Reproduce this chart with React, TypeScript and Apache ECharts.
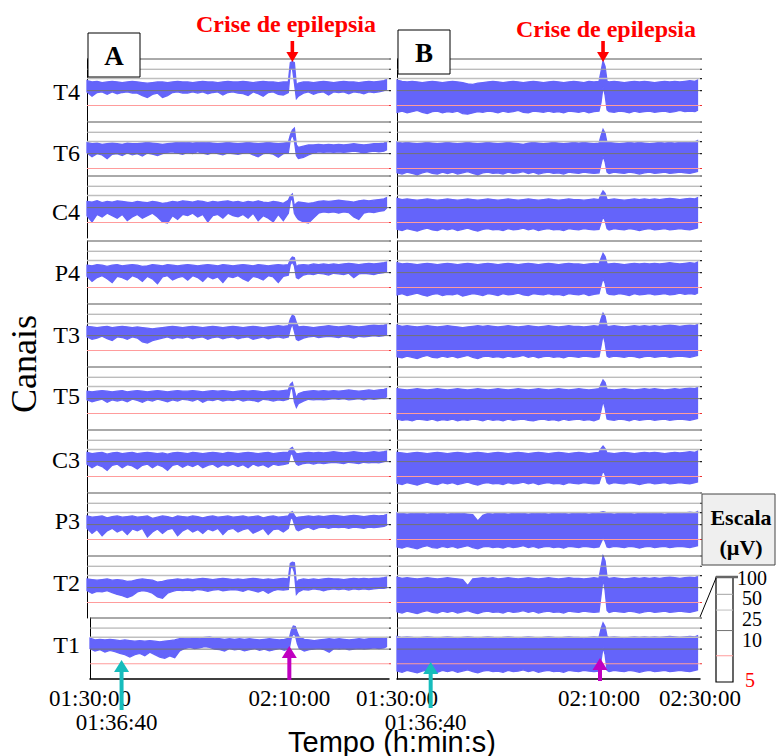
import React, { useEffect, useRef } from "react";
import * as echarts from "echarts";

// ---------------- data ----------------
const CHANNELS = ["T4", "T6", "C4", "P4", "T3", "T5", "C3", "P3", "T2", "T1"];

// minutes after 01:30:00
const TIMES = [
  0, 1, 2, 3, 4, 5, 6, 7, 8, 9,
  10, 11, 12, 13, 14, 15, 16, 17, 18, 19,
  20, 21, 22, 23, 24, 25, 26, 27, 28, 29,
  30, 31, 32, 33, 34, 35, 36, 37, 38, 39,
  40, 40.4, 40.8, 41.2, 41.6,
  42, 43, 44, 45, 46, 47, 48, 49,
  50, 51, 52, 53, 54, 55, 56, 57, 58, 59, 59.5,
];

const A_TICKS = [0, 40];
const A_TICK_LABELS = ["01:30:00", "02:10:00"];
const B_TICKS = [0, 40, 60];
const B_TICK_LABELS = ["01:30:00", "02:10:00", "02:30:00"];
const ONSET_TIME = 6.667;
const ONSET_LABEL = "01:36:40";
const SEIZURE_TIME = 40;
const SPIKE_TIME = 40.8;
const SEIZURE_TITLE = "Crise de epilepsia";

const SCALE_LEVELS = [100, 83.5, 68.5, 49, 25];
const SCALE_LABELS = ["100", "50", "25", "10", "5"];

// ---- Panel A (envelopes, relative level 0..100) ----
const A_T4_UP = [
  65, 63, 64, 62, 63, 64, 63, 62, 63, 64,
  63, 62, 61, 62, 63, 63, 62, 63, 64, 63,
  63, 62, 63, 64, 63, 63, 62, 63, 64, 63,
  63, 64, 63, 62, 63, 64, 63, 63, 62, 63,
  63, 94, 96, 94, 58,
  61, 63, 63, 62, 63, 64, 63, 62,
  63, 64, 63, 63, 62, 63, 64, 63, 64, 65, 67,
];
const A_T4_LO = [
  47, 40, 46, 47, 43, 47, 44, 46, 47, 45,
  45, 41, 38, 43, 45, 38, 41, 46, 47, 45,
  45, 47, 45, 47, 44, 46, 47, 42, 46, 47,
  45, 44, 41, 47, 44, 40, 46, 47, 43, 42,
  46, 83, 86, 62, 36,
  40, 45, 47, 43, 46, 47, 42, 47,
  46, 47, 44, 47, 46, 44, 47, 46, 47, 49, 51,
];
const A_T6_UP = [
  67, 65, 66, 64, 65, 66, 65, 64, 66, 65,
  65, 66, 67, 66, 65, 64, 65, 66, 67, 68,
  67, 66, 67, 68, 67, 66, 65, 66, 67, 66,
  65, 66, 67, 66, 65, 66, 67, 66, 65, 66,
  67, 79, 87, 90, 63,
  59, 61, 63, 63, 64, 63, 64, 63,
  64, 63, 64, 65, 64, 63, 64, 65, 65, 66, 68,
];
const A_T6_LO = [
  50, 44, 49, 47, 41, 48, 49, 46, 50, 47,
  49, 45, 50, 48, 46, 49, 51, 52, 50, 48,
  51, 49, 52, 50, 48, 51, 49, 47, 50, 49,
  48, 50, 51, 47, 44, 49, 50, 48, 43, 49,
  50, 72, 80, 70, 46,
  41, 43, 47, 50, 52, 51, 52, 51,
  52, 51, 52, 53, 52, 50, 52, 53, 52, 53, 55,
];
const A_C4_UP = [
  59, 58, 60, 57, 59, 58, 60, 59, 58, 57,
  59, 58, 57, 59, 58, 56, 57, 59, 58, 60,
  59, 58, 60, 59, 57, 59, 58, 59, 60, 58,
  59, 57, 59, 58, 60, 58, 57, 59, 58, 56,
  61, 68, 71, 52, 56,
  58, 57, 56, 57, 59, 60, 59, 60,
  61, 60, 59, 58, 60, 61, 60, 61, 62, 63, 65,
];
const A_C4_LO = [
  36, 26, 38, 34, 40, 36, 32, 38, 28, 34,
  38, 32, 36, 40, 34, 26, 24, 36, 30, 38,
  36, 40, 34, 38, 26, 36, 38, 32, 40, 36,
  34, 38, 32, 40, 28, 36, 32, 26, 38, 28,
  40, 60, 64, 40, 34,
  30, 26, 24, 32, 40, 42, 41, 42,
  40, 42, 41, 34, 30, 40, 42, 41, 43, 44, 48,
];
const A_P4_UP = [
  61, 60, 62, 61, 59, 61, 62, 60, 61, 62,
  61, 59, 60, 62, 61, 60, 62, 61, 60, 61,
  62, 61, 60, 61, 62, 61, 60, 62, 61, 60,
  61, 62, 61, 60, 62, 61, 60, 61, 62, 61,
  62, 70, 74, 73, 58,
  61, 62, 61, 63, 62, 63, 62, 63,
  62, 63, 64, 63, 62, 63, 64, 63, 64, 65, 66,
];
const A_P4_LO = [
  43, 35, 41, 44, 39, 33, 43, 41, 37, 44,
  41, 35, 43, 39, 31, 42, 44, 37, 41, 43,
  37, 44, 41, 35, 43, 39, 42, 33, 43, 41,
  44, 39, 35, 43, 41, 37, 44, 42, 33, 43,
  45, 62, 66, 60, 41,
  39, 45, 47, 46, 48, 47, 45, 48,
  47, 46, 48, 41, 47, 48, 47, 46, 48, 49, 51,
];
const A_T3_UP = [
  64, 63, 62, 63, 64, 62, 63, 64, 63, 62,
  63, 62, 61, 60, 61, 62, 63, 64, 63, 62,
  63, 64, 63, 62, 63, 64, 63, 62, 63, 64,
  63, 62, 63, 64, 63, 62, 63, 64, 65, 64,
  65, 76, 82, 80, 70,
  63, 64, 63, 62, 63, 64, 65, 64,
  63, 64, 65, 64, 63, 64, 65, 66, 65, 66, 67,
];
const A_T3_LO = [
  47, 43, 45, 48, 44, 41, 47, 46, 43, 47,
  45, 39, 37, 41, 43, 45, 47, 44, 46, 45,
  47, 44, 46, 47, 43, 46, 47, 44, 46, 47,
  44, 46, 47, 43, 45, 47, 44, 46, 47, 45,
  47, 60, 68, 56, 43,
  41, 45, 47, 48, 46, 47, 48, 47,
  46, 48, 47, 45, 48, 47, 48, 49, 48, 49, 51,
];
const A_T5_UP = [
  61, 60, 61, 62, 61, 60, 61, 62, 60, 61,
  62, 61, 60, 61, 62, 61, 60, 61, 62, 61,
  61, 62, 61, 60, 61, 62, 61, 62, 61, 60,
  61, 62, 61, 62, 61, 60, 61, 62, 61, 62,
  63, 72, 75, 62, 50,
  57, 60, 61, 62, 61, 62, 61, 62,
  61, 62, 63, 62, 61, 62, 63, 62, 63, 64, 65,
];
const A_T5_LO = [
  47, 44, 46, 48, 43, 47, 45, 47, 44, 48,
  46, 43, 47, 45, 48, 46, 44, 47, 45, 48,
  47, 45, 48, 43, 47, 46, 48, 45, 47, 46,
  48, 45, 47, 46, 44, 48, 47, 45, 47, 46,
  48, 64, 66, 44, 35,
  41, 45, 48, 47, 48, 47, 48, 49,
  48, 49, 47, 48, 49, 47, 49, 48, 49, 50, 52,
];
const A_C3_UP = [
  64, 62, 63, 64, 61, 63, 64, 62, 63, 64,
  62, 63, 64, 63, 62, 63, 61, 63, 64, 63,
  62, 64, 63, 62, 63, 64, 63, 62, 64, 63,
  62, 63, 64, 63, 62, 63, 64, 62, 63, 64,
  64, 70, 72, 66, 62,
  62, 63, 64, 63, 64, 63, 64, 65,
  64, 63, 64, 65, 64, 63, 64, 65, 64, 65, 66,
];
const A_C3_LO = [
  45, 39, 44, 41, 35, 43, 45, 39, 44, 42,
  37, 43, 45, 39, 44, 41, 35, 43, 45, 40,
  44, 41, 45, 39, 43, 45, 40, 44, 42, 45,
  41, 44, 39, 45, 42, 44, 40, 45, 43, 44,
  46, 60, 62, 52, 45,
  43, 46, 47, 45, 47, 46, 47, 48,
  47, 46, 48, 47, 46, 48, 47, 48, 47, 49, 50,
];
const A_P3_UP = [
  63, 61, 62, 63, 60, 62, 63, 61, 62, 63,
  61, 62, 63, 59, 61, 63, 62, 60, 63, 62,
  61, 63, 62, 60, 62, 63, 61, 62, 63, 61,
  62, 63, 61, 62, 63, 60, 62, 63, 61, 62,
  63, 68, 70, 64, 60,
  61, 62, 63, 62, 63, 62, 63, 64,
  63, 62, 63, 64, 63, 62, 63, 64, 63, 64, 65,
];
const A_P3_LO = [
  43, 35, 41, 31, 39, 43, 37, 41, 33, 42,
  39, 43, 29, 37, 42, 35, 41, 43, 31, 39,
  43, 37, 41, 35, 42, 39, 43, 33, 41, 43,
  37, 41, 43, 35, 39, 43, 33, 41, 42, 37,
  43, 58, 60, 50, 41,
  39, 43, 45, 41, 44, 45, 43, 45,
  44, 45, 43, 45, 44, 43, 45, 44, 45, 46, 48,
];
const A_T2_UP = [
  63, 62, 61, 62, 63, 61, 62, 61, 59, 60,
  62, 63, 62, 61, 58, 59, 61, 62, 63, 62,
  63, 62, 63, 64, 63, 62, 63, 64, 63, 62,
  63, 62, 63, 64, 63, 62, 63, 62, 63, 64,
  63, 88, 90, 89, 56,
  61, 63, 62, 63, 62, 63, 64, 63,
  63, 62, 63, 64, 63, 64, 63, 64, 64, 65, 66,
];
const A_T2_LO = [
  44, 40, 43, 42, 44, 41, 38, 36, 33, 36,
  42, 44, 43, 40, 34, 32, 40, 43, 45, 44,
  45, 44, 46, 45, 43, 45, 46, 44, 45, 46,
  45, 43, 46, 44, 42, 45, 40, 44, 46, 45,
  46, 80, 83, 74, 38,
  42, 46, 45, 47, 46, 44, 46, 47,
  46, 47, 45, 47, 46, 47, 46, 47, 48, 48, 49,
];
const A_T1_UP = [
  67, 64, 65, 64, 65, 64, 63, 64, 63, 62,
  63, 62, 63, 62, 61, 62, 63, 64, 66, 67,
  67, 66, 67, 68, 69, 67, 66, 65, 66, 65,
  66, 65, 66, 65, 64, 65, 66, 65, 64, 65,
  67, 80, 87, 86, 76,
  69, 65, 64, 63, 64, 65, 66, 65,
  66, 65, 64, 65, 66, 65, 66, 67, 66, 67, 68,
];
const A_T1_LO = [
  50, 46, 48, 44, 47, 45, 42, 40, 36, 40,
  42, 38, 44, 40, 36, 34, 38, 35, 46, 50,
  52, 50, 51, 53, 52, 49, 48, 46, 50, 48,
  49, 46, 48, 50, 47, 49, 46, 48, 50, 47,
  50, 68, 74, 72, 58,
  50, 46, 48, 49, 50, 48, 44, 50,
  49, 50, 48, 49, 50, 49, 50, 51, 50, 51, 53,
];

// ---- Panel B ----
const B_T4_UP = [
  66, 64, 63, 64, 63, 62, 63, 64, 63, 62,
  63, 64, 63, 62, 60, 59, 61, 62, 63, 64,
  63, 62, 63, 64, 63, 62, 63, 64, 63, 62,
  63, 64, 63, 62, 63, 64, 63, 62, 64, 63,
  64, 80, 97, 88, 64,
  63, 64, 63, 62, 63, 64, 63, 64,
  63, 62, 63, 64, 63, 64, 63, 64, 65, 64, 66,
];
const B_T4_LO = [
  14, 16, 13, 15, 17, 14, 12, 15, 16, 13,
  15, 14, 16, 12, 11, 13, 15, 14, 16, 15,
  13, 16, 14, 15, 17, 14, 13, 16, 15, 14,
  16, 14, 15, 13, 16, 15, 14, 16, 13, 15,
  16, 30, 55, 42, 18,
  15, 14, 16, 15, 13, 16, 14, 15,
  16, 14, 15, 16, 14, 15, 17, 15, 16, 15, 17,
];
const B_T6_UP = [
  68, 66, 67, 66, 65, 66, 67, 66, 65, 66,
  67, 66, 65, 66, 67, 66, 65, 66, 67, 66,
  65, 66, 67, 66, 65, 64, 66, 67, 66, 65,
  66, 67, 66, 65, 66, 67, 66, 67, 66, 65,
  66, 78, 88, 82, 66,
  67, 66, 65, 66, 67, 66, 67, 66,
  65, 66, 67, 66, 67, 66, 67, 68, 67, 68, 70,
];
const B_T6_LO = [
  18, 16, 19, 17, 15, 18, 20, 17, 16, 19,
  17, 19, 16, 18, 20, 17, 15, 18, 19, 17,
  18, 16, 19, 17, 18, 20, 17, 19, 16, 18,
  19, 17, 18, 16, 19, 18, 17, 19, 18, 17,
  18, 32, 45, 36, 19,
  17, 19, 18, 17, 19, 18, 16, 18,
  19, 17, 18, 19, 17, 18, 19, 18, 17, 19, 20,
];
const B_C4_UP = [
  64, 62, 63, 62, 61, 62, 63, 62, 61, 62,
  63, 62, 61, 62, 63, 62, 61, 62, 63, 62,
  61, 62, 63, 62, 61, 62, 63, 62, 61, 62,
  63, 62, 61, 62, 63, 62, 62, 61, 62, 63,
  62, 70, 76, 72, 62,
  62, 63, 62, 61, 62, 63, 62, 63,
  62, 63, 62, 63, 64, 63, 62, 63, 64, 63, 65,
];
const B_C4_LO = [
  14, 12, 15, 13, 11, 14, 16, 13, 12, 15,
  13, 15, 12, 14, 16, 13, 11, 14, 15, 13,
  14, 12, 15, 13, 14, 16, 13, 15, 12, 14,
  15, 13, 14, 12, 15, 14, 13, 15, 14, 13,
  14, 24, 35, 28, 15,
  13, 15, 14, 13, 15, 14, 12, 14,
  15, 13, 14, 15, 13, 14, 15, 14, 13, 15, 16,
];
const B_P4_UP = [
  65, 63, 64, 63, 62, 63, 64, 63, 62, 63,
  64, 63, 62, 63, 64, 63, 62, 63, 64, 63,
  62, 63, 64, 63, 62, 63, 64, 63, 62, 63,
  64, 63, 62, 63, 64, 63, 63, 62, 63, 64,
  63, 72, 80, 75, 63,
  63, 64, 63, 62, 63, 64, 63, 64,
  63, 64, 63, 64, 65, 64, 63, 64, 65, 64, 66,
];
const B_P4_LO = [
  13, 15, 12, 14, 16, 13, 11, 14, 15, 12,
  14, 13, 15, 11, 13, 15, 14, 12, 15, 14,
  12, 15, 13, 14, 16, 13, 12, 15, 14, 13,
  15, 13, 14, 12, 15, 14, 13, 15, 12, 14,
  15, 28, 40, 32, 16,
  14, 13, 15, 14, 12, 15, 13, 14,
  15, 13, 14, 15, 13, 14, 16, 14, 15, 14, 16,
];
const B_T3_UP = [
  66, 64, 65, 64, 63, 64, 65, 64, 63, 64,
  65, 64, 63, 62, 63, 64, 65, 64, 65, 64,
  63, 64, 65, 64, 63, 64, 65, 64, 63, 64,
  65, 64, 63, 64, 65, 64, 64, 63, 64, 65,
  64, 76, 85, 80, 64,
  64, 65, 64, 63, 64, 65, 64, 65,
  64, 65, 64, 65, 66, 65, 64, 65, 66, 65, 67,
];
const B_T3_LO = [
  15, 13, 16, 14, 12, 15, 17, 14, 13, 16,
  14, 16, 13, 15, 17, 14, 12, 15, 16, 14,
  15, 13, 16, 14, 15, 17, 14, 16, 13, 15,
  16, 14, 15, 13, 16, 15, 14, 16, 15, 14,
  15, 32, 50, 38, 16,
  14, 16, 15, 14, 16, 15, 13, 15,
  16, 14, 15, 16, 14, 15, 16, 15, 14, 16, 17,
];
const B_T5_UP = [
  65, 64, 63, 64, 65, 64, 63, 64, 65, 64,
  63, 64, 65, 64, 63, 64, 65, 64, 63, 64,
  65, 64, 63, 64, 65, 64, 63, 64, 65, 64,
  63, 64, 65, 64, 63, 64, 65, 64, 63, 64,
  65, 72, 79, 75, 64,
  64, 63, 64, 65, 64, 63, 64, 65,
  64, 65, 64, 63, 64, 65, 64, 65, 66, 65, 67,
];
const B_T5_LO = [
  16, 14, 15, 13, 16, 15, 14, 16, 13, 15,
  14, 16, 13, 15, 14, 16, 15, 13, 16, 14,
  15, 13, 16, 14, 15, 16, 14, 13, 15, 16,
  14, 15, 13, 16, 14, 15, 16, 14, 15, 13,
  16, 30, 45, 34, 16,
  15, 14, 16, 15, 13, 16, 14, 15,
  16, 14, 15, 16, 14, 15, 16, 15, 14, 16, 17,
];
const B_C3_UP = [
  64, 63, 62, 63, 64, 63, 62, 63, 64, 63,
  62, 63, 64, 63, 62, 63, 64, 63, 62, 63,
  64, 63, 62, 63, 64, 63, 62, 63, 64, 63,
  62, 63, 64, 63, 62, 63, 64, 63, 62, 63,
  64, 70, 74, 70, 63,
  63, 62, 63, 64, 63, 62, 63, 64,
  63, 64, 63, 62, 63, 64, 63, 64, 65, 64, 66,
];
const B_C3_LO = [
  14, 12, 15, 13, 11, 14, 16, 13, 12, 15,
  13, 15, 12, 14, 16, 13, 11, 14, 15, 13,
  14, 12, 15, 13, 14, 16, 13, 15, 12, 14,
  15, 13, 14, 12, 15, 14, 13, 15, 14, 13,
  14, 24, 35, 28, 15,
  13, 15, 14, 13, 15, 14, 12, 14,
  15, 13, 14, 15, 13, 14, 15, 14, 13, 15, 16,
];
const B_P3_UP = [
  68, 67, 66, 67, 68, 67, 66, 67, 68, 67,
  66, 67, 68, 67, 66, 65, 55, 64, 67, 66,
  68, 67, 66, 67, 68, 67, 66, 67, 68, 67,
  66, 67, 68, 67, 66, 67, 68, 67, 66, 67,
  68, 69, 70, 69, 67,
  67, 66, 67, 68, 67, 66, 67, 68,
  67, 68, 67, 66, 67, 68, 67, 68, 69, 68, 70,
];
const B_P3_LO = [
  13, 11, 14, 12, 10, 13, 15, 12, 11, 14,
  12, 14, 11, 13, 15, 12, 10, 13, 14, 12,
  13, 11, 14, 12, 13, 15, 12, 14, 11, 13,
  14, 12, 13, 11, 14, 13, 12, 14, 13, 12,
  13, 20, 27, 22, 13,
  12, 14, 13, 12, 14, 13, 11, 13,
  14, 12, 13, 14, 12, 13, 14, 13, 12, 14, 15,
];
const B_T2_UP = [
  66, 64, 65, 64, 63, 64, 65, 64, 63, 64,
  65, 64, 63, 62, 52, 63, 64, 65, 64, 65,
  63, 64, 65, 64, 63, 64, 65, 64, 63, 64,
  65, 64, 63, 64, 65, 64, 64, 63, 64, 65,
  64, 82, 100, 92, 65,
  64, 65, 64, 63, 64, 65, 64, 65,
  64, 65, 64, 65, 66, 65, 64, 65, 66, 65, 67,
];
const B_T2_LO = [
  10, 8, 11, 9, 7, 10, 12, 9, 8, 11,
  9, 11, 8, 10, 12, 9, 7, 10, 11, 9,
  10, 8, 11, 9, 10, 12, 9, 11, 8, 10,
  11, 9, 10, 8, 11, 10, 9, 11, 10, 9,
  10, 36, 63, 45, 12,
  9, 11, 10, 9, 11, 10, 8, 10,
  11, 9, 10, 11, 9, 10, 11, 10, 9, 11, 12,
];
const B_T1_UP = [
  70, 68, 69, 68, 67, 68, 69, 68, 67, 68,
  69, 68, 67, 68, 69, 68, 67, 68, 69, 68,
  67, 68, 69, 68, 67, 68, 69, 68, 67, 68,
  69, 68, 67, 68, 69, 68, 68, 67, 68, 69,
  68, 82, 92, 86, 70,
  68, 69, 68, 67, 68, 69, 68, 69,
  68, 69, 68, 69, 70, 69, 68, 69, 70, 69, 71,
];
const B_T1_LO = [
  13, 11, 14, 12, 10, 13, 15, 12, 11, 14,
  12, 14, 11, 13, 15, 12, 10, 13, 14, 12,
  13, 11, 14, 12, 13, 15, 12, 14, 11, 13,
  14, 12, 13, 11, 14, 13, 12, 14, 13, 12,
  13, 30, 52, 40, 14,
  12, 14, 13, 12, 14, 13, 11, 13,
  14, 12, 13, 14, 12, 13, 14, 13, 12, 14, 15,
];

const A_UP = [A_T4_UP, A_T6_UP, A_C4_UP, A_P4_UP, A_T3_UP, A_T5_UP, A_C3_UP, A_P3_UP, A_T2_UP, A_T1_UP];
const A_LO = [A_T4_LO, A_T6_LO, A_C4_LO, A_P4_LO, A_T3_LO, A_T5_LO, A_C3_LO, A_P3_LO, A_T2_LO, A_T1_LO];
const B_UP = [B_T4_UP, B_T6_UP, B_C4_UP, B_P4_UP, B_T3_UP, B_T5_UP, B_C3_UP, B_P3_UP, B_T2_UP, B_T1_UP];
const B_LO = [B_T4_LO, B_T6_LO, B_C4_LO, B_P4_LO, B_T3_LO, B_T5_LO, B_C3_LO, B_P3_LO, B_T2_LO, B_T1_LO];

// ---------------- layout / style ----------------
const W = 776;
const H = 756;
const PANEL_LEFT = [87, 397];
const PANEL_WIDTH = [302, 303];
const STRIP_TOPS = [59, 122, 176, 241, 304, 367, 430, 493, 556, 618];
const STRIP_H = 62;
const LABEL_Y = [92, 153, 212, 273, 335, 396, 460, 521, 583, 645];
const BAND = "#6464fa";
const LINE_COLORS = ["#555555", "#a3a3a3", "#bfbfbf", "#737373", "#ff9c9c"];
const LINE_WIDTHS = [1, 1, 1.4, 1, 1];
const SERIF = "'Liberation Serif', 'Times New Roman', serif";
const SANS = "'Liberation Sans', Arial, sans-serif";

function xOf(p: number, t: number) {
  return PANEL_LEFT[p] + (t / 60) * PANEL_WIDTH[p];
}

function buildOption() {
  const grid: any[] = [];
  const xAxis: any[] = [];
  const yAxis: any[] = [];
  const series: any[] = [];
  const panels = [
    { up: A_UP, lo: A_LO, ticks: A_TICKS, labels: A_TICK_LABELS },
    { up: B_UP, lo: B_LO, ticks: B_TICKS, labels: B_TICK_LABELS },
  ];
  panels.forEach((panel, p) => {
    CHANNELS.forEach((ch, i) => {
      const k = p * CHANNELS.length + i;
      const last = i === CHANNELS.length - 1;
      const left = p === 0 && last ? PANEL_LEFT[p] + 3 : PANEL_LEFT[p];
      const width = p === 0 && last ? PANEL_WIDTH[p] - 3 : PANEL_WIDTH[p];
      grid.push({ left, width, top: STRIP_TOPS[i], height: last ? STRIP_H - 1 : STRIP_H, show: false });
      xAxis.push({
        gridIndex: k,
        type: "value",
        min: 0,
        max: 60,
        interval: 10,
        axisLine: { show: last, onZero: false, lineStyle: { color: "#000", width: 1.5 } },
        axisTick: { show: false },
        splitLine: { show: false },
        axisLabel: {
          show: last,
          margin: 8,
          color: "#000",
          fontFamily: SERIF,
          fontSize: 23,
          formatter: (v: number) => {
            const n = panel.ticks.indexOf(v);
            return n >= 0 ? panel.labels[n] : "";
          },
        },
      });
      yAxis.push({
        gridIndex: k,
        type: "value",
        min: 0,
        max: 100,
        axisLine: { show: true, onZero: false, lineStyle: { color: "#000", width: 1 } },
        axisTick: { show: false },
        axisLabel: { show: false },
        splitLine: { show: false },
      });
      const up = panel.up[i];
      const lo = panel.lo[i];
      series.push({
        type: "custom",
        name: (p === 0 ? "A " : "B ") + ch,
        xAxisIndex: k,
        yAxisIndex: k,
        silent: true,
        clip: false,
        encode: { x: 0, y: [1, 2] },
        data: TIMES.map((t, j) => [t, lo[j], up[j]]),
        renderItem: (params: any, api: any) => {
          if (params.dataIndex !== 0) return null;
          const topPts = TIMES.map((t, j) => api.coord([t, up[j]]));
          const botPts = TIMES.map((t, j) => api.coord([t, lo[j]])).reverse();
          const children: any[] = [
            {
              type: "polygon",
              shape: { points: topPts.concat(botPts) },
              style: { fill: BAND, stroke: BAND, lineWidth: 1.3, lineJoin: "miter" },
            },
          ];
          SCALE_LEVELS.forEach((lv, n) => {
            const a = api.coord([0, lv]);
            const b = api.coord([60, lv]);
            children.push({
              type: "line",
              shape: { x1: a[0], y1: a[1], x2: b[0], y2: b[1] },
              style: { stroke: LINE_COLORS[n], lineWidth: LINE_WIDTHS[n] },
            });
            children.push({
              type: "line",
              shape: { x1: b[0], y1: b[1], x2: b[0] + 2, y2: b[1] },
              style: { stroke: n === 4 ? "#e33" : "#222", lineWidth: 1.2 },
            });
          });
          return { type: "group", children };
        },
      });
    });
  });

  const Z = 100;
  const g: any[] = [];
  const text = (x: number, y: number, s: string, font: string, color = "#000", align = "center", extra: any = {}, lh?: number) => ({
    type: "text",
    x,
    y,
    z: Z,
    silent: true,
    ...extra,
    style: { text: s, font, fill: color, align, verticalAlign: "middle", ...(lh ? { lineHeight: lh } : {}) },
  });

  // panel boxes
  [["A", 88, 33], ["B", 398, 30]].forEach(([s, x, y]: any) => {
    g.push({ type: "rect", z: Z, shape: { x, y, width: 52, height: 44 }, style: { fill: "#fff", stroke: "#000", lineWidth: 1 } });
    g.push(text(x + 26, y + 23, s, `bold 27px ${SERIF}`));
  });

  // seizure titles + red arrows
  g.push(text(286, 24, SEIZURE_TITLE, `bold 24px ${SERIF}`, "#ff0000"));
  g.push(text(606, 29, SEIZURE_TITLE, `bold 24px ${SERIF}`, "#ff0000"));
  [0, 1].forEach((p) => {
    const x = xOf(p, SPIKE_TIME);
    g.push({ type: "rect", z: Z, shape: { x: x - 1.8, y: 41, width: 3.6, height: 12 }, style: { fill: "#ff0000" } });
    g.push({ type: "polygon", z: Z, shape: { points: [[x - 6, 52], [x + 6, 52], [x, 62]] }, style: { fill: "#ff0000" } });
  });

  // onset / seizure arrows below
  const upArrow = (x: number, tip: number, end: number, color: string) => {
    g.push({ type: "rect", z: Z, shape: { x: x - 2, y: tip + 10, width: 4, height: end - tip - 10 }, style: { fill: color } });
    g.push({ type: "polygon", z: Z, shape: { points: [[x - 7.5, tip + 12], [x + 7.5, tip + 12], [x, tip]] }, style: { fill: color } });
  };
  upArrow(xOf(0, ONSET_TIME) + 1, 660, 710, "#16bcbc");
  upArrow(xOf(1, ONSET_TIME), 662, 708, "#16bcbc");
  upArrow(xOf(0, SEIZURE_TIME) + 1, 646, 680, "#c000c0");
  upArrow(xOf(1, SEIZURE_TIME) + 1, 658, 681, "#c000c0");
  g.push(text(xOf(0, ONSET_TIME) - 4, 722, ONSET_LABEL, `23px ${SERIF}`, "#000", "center", {}, 16));
  g.push(text(xOf(1, ONSET_TIME) - 5, 722, ONSET_LABEL, `23px ${SERIF}`, "#000", "center", {}, 16));

  // channel labels
  CHANNELS.forEach((ch, i) => g.push(text(80, LABEL_Y[i], ch, `24px ${SERIF}`, "#000", "right")));

  // axis titles
  g.push(text(24, 364, "Canais", `36px ${SERIF}`, "#000", "center", { rotation: Math.PI / 2 }));
  g.push(text(392, 742, "Tempo (h:min:s)", `29px ${SANS}`, "#000", "center", {}, 20));

  // scale legend
  g.push({ type: "rect", z: Z, shape: { x: 702, y: 494, width: 73, height: 71 }, style: { fill: "#efefef", stroke: "#444", lineWidth: 1 } });
  g.push(text(741, 517, "Escala", `bold 22px ${SERIF}`));
  g.push(text(741, 547, "(\u00b5V)", `bold 22px ${SERIF}`));
  const sx = 716, sy = 577, sw = 17, sh = 105;
  g.push({ type: "rect", z: Z, shape: { x: sx, y: sy, width: sw, height: sh }, style: { fill: "#fff", stroke: "#000", lineWidth: 1.2 } });
  SCALE_LEVELS.forEach((lv, n) => {
    const y = sy + ((100 - lv) / 100) * sh;
    g.push({
      type: "line",
      z: Z,
      shape: { x1: sx, y1: y, x2: n === 0 ? sx + 22 : sx + sw, y2: y },
      style: { stroke: n === 0 ? "#666" : LINE_COLORS[n], lineWidth: n === 0 ? 2.5 : 1 },
    });
  });
  const labelYs = [578, 598, 619, 640, 680];
  SCALE_LABELS.forEach((s, n) => {
    g.push(text(n === 0 ? 737 : n === 4 ? 745 : 742, labelYs[n], s, `20px ${SERIF}`, n === 4 ? "#ff0000" : "#000", "left", {}, 15));
  });
  g.push({ type: "line", z: Z, shape: { x1: sx, y1: sy + 1, x2: 700, y2: 617 }, style: { stroke: "#000", lineWidth: 1 } });

  return {
    animation: false,
    backgroundColor: "#fff",
    grid,
    xAxis,
    yAxis,
    series,
    graphic: g,
  };
}

export default function App() {
  const ref = useRef<HTMLDivElement>(null);
  useEffect(() => {
    if (!ref.current) return;
    const chart = echarts.init(ref.current, undefined, { renderer: "svg" });
    chart.setOption(buildOption() as any);
    return () => chart.dispose();
  }, []);
  return <div ref={ref} style={{ position: "absolute", left: 0, top: 0, width: W, height: H }} />;
}
